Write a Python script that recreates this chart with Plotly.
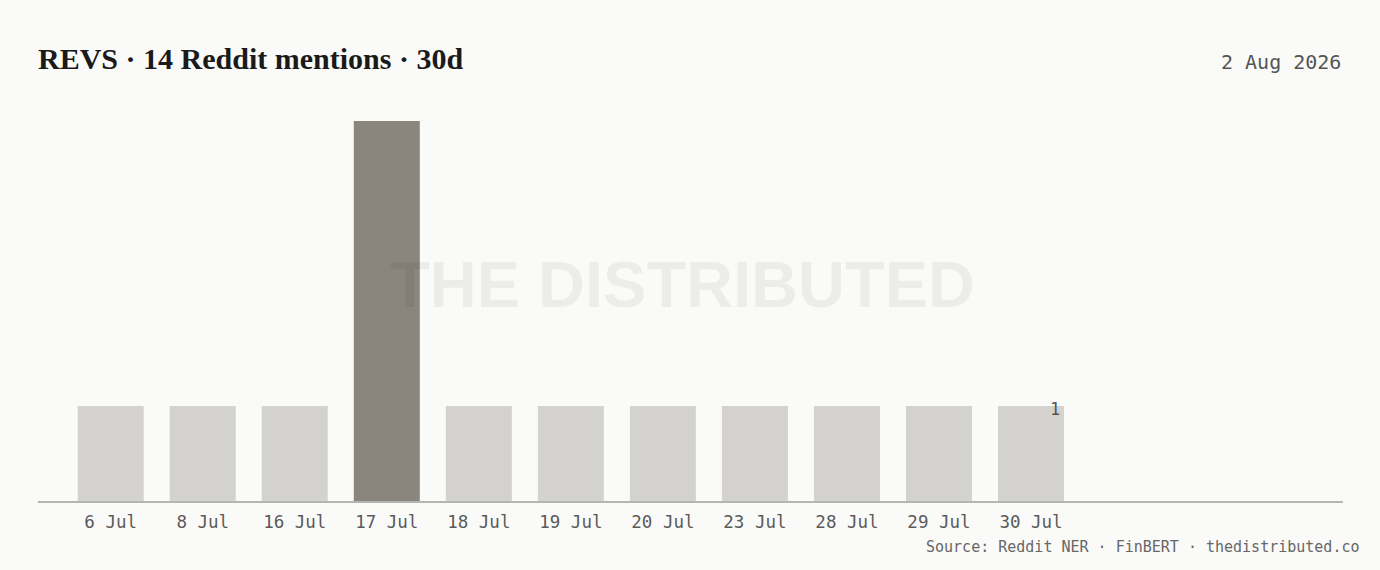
import plotly.graph_objects as go

categories = ["6 Jul", "8 Jul", "16 Jul", "17 Jul", "18 Jul", "19 Jul", "20 Jul",
              "23 Jul", "28 Jul", "29 Jul", "30 Jul"]
mentions = [1, 1, 1, 4, 1, 1, 1, 1, 1, 1, 1]
highlight = "17 Jul"
title_text = "REVS · 14 Reddit mentions · 30d"
date_text = "2 Aug 2026"
source_text = "Source: Reddit NER · FinBERT · thedistributed.co"
watermark = "THE DISTRIBUTED"

colors = ["#8a857d" if c == highlight else "#d3d2cf" for c in categories]

fig = go.Figure()
fig.add_trace(go.Bar(
    x=categories, y=mentions, marker=dict(color=colors, line=dict(width=0)),
    width=0.717, hoverinfo="skip"))

mono = "DejaVu Sans Mono"
fig.update_layout(
    width=1380, height=570,
    paper_bgcolor="#fafaf9", plot_bgcolor="#fafaf9",
    margin=dict(l=38, r=37, t=121, b=69),
    showlegend=False,
    xaxis=dict(type="category", range=[-0.79, 13.39], showgrid=False,
               showline=True, linecolor="#b5b5b3", linewidth=1.5,
               ticks="", ticklabelstandoff=4,
               tickfont=dict(family=mono, size=17.5, color="#5a5a5a"),
               zeroline=False),
    yaxis=dict(range=[0, 4.0], showgrid=False, showline=False,
               showticklabels=False, zeroline=False),
    annotations=[
        dict(text="<b>" + title_text + "</b>", xref="paper", yref="paper", x=0, y=1.164,
             xanchor="left", yanchor="middle", showarrow=False, xshift=-2,
             font=dict(family="Liberation Serif", size=30, color="#1a1a1a")),
        dict(text=date_text, xref="paper", yref="paper", x=1, y=1.155,
             xanchor="right", yanchor="middle", showarrow=False,
             font=dict(family=mono, size=20, color="#555555")),
        dict(text=source_text, xref="paper", yref="paper", x=1, y=-0.12,
             xanchor="right", yanchor="middle", xshift=18, showarrow=False,
             font=dict(family=mono, size=15, color="#666666")),
        dict(text="<b>" + watermark + "</b>", xref="paper", yref="paper", x=0.4935, y=0.571,
             xanchor="center", yanchor="middle", showarrow=False,
             font=dict(family="Liberation Sans", size=65, color="rgba(0,0,0,0.055)")),
        dict(text=str(mentions[-1]), x=categories[-1], y=mentions[-1],
             xanchor="right", yanchor="middle", xshift=31, yshift=-3, showarrow=False,
             font=dict(family=mono, size=17, color="#555555")),
    ],
)

fig.write_html("out.html", config={"displayModeBar": False},
               post_script="document.body.style.margin='0';document.body.style.background='#fafaf9';")
